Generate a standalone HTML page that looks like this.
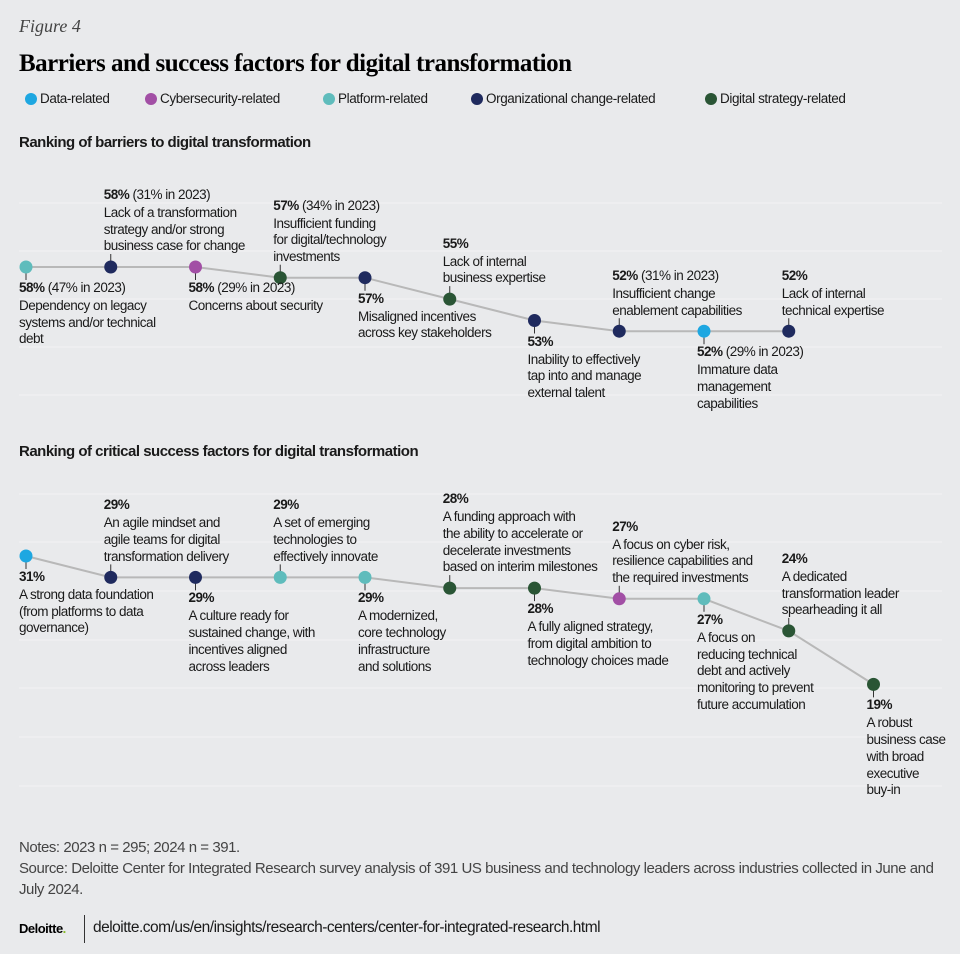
<!DOCTYPE html>
<html><head><meta charset="utf-8">
<style>
body{margin:0;background:#e9eaec;}
#root{position:relative;width:960px;height:954px;background:#e9eaec;overflow:hidden;font-family:"Liberation Sans",sans-serif;color:#1a1a1a;}
.abs{position:absolute;white-space:nowrap;}
.lbl{position:absolute;font-size:13.5px;letter-spacing:-0.5px;line-height:16.7px;white-space:nowrap;color:#1a1a1a;}
.lbl .pct{font-weight:bold;line-height:20px;}
.lbl .pct span{font-weight:normal;}
.leg{position:absolute;top:91px;font-size:13.5px;letter-spacing:-0.4px;line-height:16px;}
.leg i{position:absolute;left:-15px;top:2px;width:12px;height:12px;border-radius:50%;}
</style></head>
<body>
<div id="root">
<div class="abs" style="left:19px;top:16px;font-family:'Liberation Serif',serif;font-style:italic;font-size:18px;color:#444;">Figure 4</div>
<div class="abs" style="left:19px;top:50px;font-family:'Liberation Serif',serif;font-weight:bold;font-size:25px;letter-spacing:-0.5px;color:#000;">Barriers and success factors for digital transformation</div>
<div class="leg" style="left:40px"><i style="background:#1ea7e1"></i>Data-related</div>
<div class="leg" style="left:160px"><i style="background:#a24fa5"></i>Cybersecurity-related</div>
<div class="leg" style="left:338px"><i style="background:#5fbcbc"></i>Platform-related</div>
<div class="leg" style="left:486px"><i style="background:#1f2a5e"></i>Organizational change-related</div>
<div class="leg" style="left:720px"><i style="background:#2a5535"></i>Digital strategy-related</div>
<div class="abs" style="left:19px;top:134px;font-weight:bold;font-size:15px;letter-spacing:-0.5px;">Ranking of barriers to digital transformation</div>
<div class="abs" style="left:19px;top:443px;font-weight:bold;font-size:15px;letter-spacing:-0.5px;">Ranking of critical success factors for digital transformation</div>
<svg id="svg" width="960" height="954" style="position:absolute;left:0;top:0"></svg>
<div id="labels"></div>
<div class="abs" style="left:19px;top:837px;font-size:15px;letter-spacing:-0.45px;line-height:21px;color:#444;white-space:normal;width:938px;">Notes: 2023 n = 295; 2024 n = 391.<br>Source: Deloitte Center for Integrated Research survey analysis of 391 US business and technology leaders across industries collected in June and<br>July 2024.</div>
<div class="abs" style="left:19px;top:921px;font-weight:bold;font-size:13px;letter-spacing:-0.5px;color:#000;">Deloitte<span style="color:#86bc25">.</span></div>
<div class="abs" style="left:84px;top:915px;width:1px;height:28px;background:#333;"></div>
<div class="abs" style="left:93px;top:919px;font-size:15.5px;letter-spacing:-0.5px;">deloitte.com/us/en/insights/research-centers/center-for-integrated-research.html</div>
</div>
<script>
const colors={data:"#1ea7e1",cyber:"#a24fa5",platform:"#5fbcbc",org:"#1f2a5e",strategy:"#2a5535"};
const barrierValues=[58,58,58,57,57,55,53,52,52,52];
const barrierPrev=["47% in 2023","31% in 2023","29% in 2023","34% in 2023","","","","31% in 2023","29% in 2023",""];
const barrierCats=["platform","org","cyber","strategy","org","strategy","org","org","data","org"];
const barrierSide=["below","above","below","above","below","above","below","above","below","above"];
const barrierLabels=["Dependency on legacy\nsystems and/or technical\ndebt","Lack of a transformation\nstrategy and/or strong\nbusiness case for change","Concerns about security","Insufficient funding\nfor digital/technology\ninvestments","Misaligned incentives\nacross key stakeholders","Lack of internal\nbusiness expertise","Inability to effectively\ntap into and manage\nexternal talent","Insufficient change\nenablement capabilities","Immature data\nmanagement\ncapabilities","Lack of internal\ntechnical expertise"];
const successValues=[31,29,29,29,29,28,28,27,27,24,19];
const successCats=["data","org","org","platform","platform","strategy","strategy","cyber","platform","strategy","strategy"];
const successSide=["below","above","below","above","below","above","below","above","below","above","below"];
const successLabels=["A strong data foundation\n(from platforms to data\ngovernance)","An agile mindset and\nagile teams for digital\ntransformation delivery","A culture ready for\nsustained change, with\nincentives aligned\nacross leaders","A set of emerging\ntechnologies to\neffectively innovate","A modernized,\ncore technology\ninfrastructure\nand solutions","A funding approach with\nthe ability to accelerate or\ndecelerate investments\nbased on interim milestones","A fully aligned strategy,\nfrom digital ambition to\ntechnology choices made","A focus on cyber risk,\nresilience capabilities and\nthe required investments","A focus on\nreducing technical\ndebt and actively\nmonitoring to prevent\nfuture accumulation","A dedicated\ntransformation leader\nspearheading it all","A robust\nbusiness case\nwith broad\nexecutive\nbuy-in"];

const NS="http://www.w3.org/2000/svg";
const svg=document.getElementById('svg');
const labelsDiv=document.getElementById('labels');
const xScale=i=>26+i*84.75;
const PER=10.7;
function grid(ys){ys.forEach(y=>{const l=document.createElementNS(NS,'line');


l.setAttribute('x1',19);l.setAttribute('x2',942);l.setAttribute('y1',y);l.setAttribute('y2',y);l.setAttribute('stroke','#f1f1f3');l.setAttribute('stroke-width',1.2);svg.appendChild(l);});}
grid([203,251,299,347,395]);
grid([494,542,591,640,688,737,786]);
function drawChart(vals,cats,sides,labels,prev,topV,topY,name){
  const y=v=>topY+(topV-v)*PER;
  const pts=vals.map((v,i)=>xScale(i)+','+y(v)).join(' ');
  const pl=document.createElementNS(NS,'polyline');
  
  
  pl.setAttribute('points',pts);pl.setAttribute('fill','none');pl.setAttribute('stroke','#b8b8b8');pl.setAttribute('stroke-width',2);
  svg.appendChild(pl);
  vals.forEach((v,i)=>{
    const cx=xScale(i),cy=y(v),above=sides[i]==='above';
    const t=document.createElementNS(NS,'line');
    
    
    t.setAttribute('x1',cx);t.setAttribute('x2',cx);t.setAttribute('y1',cy);t.setAttribute('y2',above?cy-13:cy+13);t.setAttribute('stroke','#333');t.setAttribute('stroke-width',1);
    svg.appendChild(t);
    const c=document.createElementNS(NS,'circle');
    
    
    c.setAttribute('cx',cx);c.setAttribute('cy',cy);c.setAttribute('r',6.5);c.setAttribute('fill',colors[cats[i]]);
    svg.appendChild(c);
    const d=document.createElement('div');
    
    
    d.className='lbl';
    const p=prev&&prev[i]?' <span>('+prev[i]+')</span>':'';
    d.innerHTML='<div class="pct">'+v+'%'+p+'</div>'+labels[i].split('\n').join('<br>');
    d.style.left=(cx-7)+'px';
    if(above){d.style.bottom=(954-(cy-12))+'px';}else{d.style.top=(cy+11)+'px';}
    labelsDiv.appendChild(d);
  });
}
drawChart(barrierValues,barrierCats,barrierSide,barrierLabels,barrierPrev,58,267,'barrier');
drawChart(successValues,successCats,successSide,successLabels,null,31,556,'success');
</script>
</body></html>
